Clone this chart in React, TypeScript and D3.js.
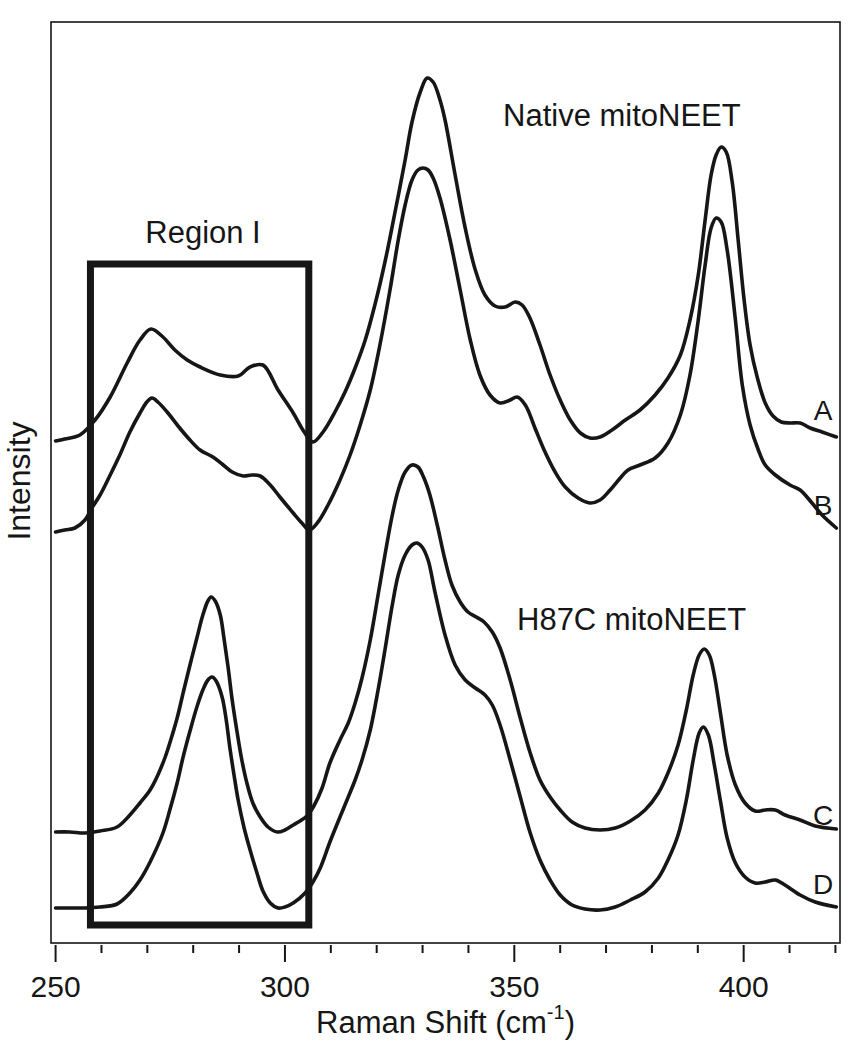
import React from "react";
import * as d3 from "d3";

// Raman shift (cm-1), intensity (arbitrary units, offset traces)
const nativeA: [number, number][] = [
  [250, 502], [252, 504], [255.3, 508], [258.6, 523], [261.9, 546], [265.6, 580], [268.4, 603], [270.8, 614],
  [273.4, 606], [276, 593], [278.7, 583], [281.5, 576], [285.9, 568], [289.8, 567], [292.4, 576], [295.2, 578],
  [298.5, 553], [301.8, 530], [304.2, 511], [306.1, 501], [308.3, 511], [310.9, 531], [313.1, 551], [315.3, 575],
  [317.5, 603], [319.6, 638], [321.8, 681], [324, 731], [326.2, 783], [327.7, 821], [329.5, 851], [331, 865],
  [332.3, 861], [333.8, 843], [334.9, 823], [337.1, 768], [339.3, 715], [341.5, 673], [343.6, 648], [345.8, 637],
  [348, 636], [350.2, 641], [351.7, 638], [353.4, 625], [355.6, 598], [357.8, 568], [360, 543], [362.2, 523],
  [364.4, 510], [366.5, 505], [368.7, 506], [371.3, 513], [374.2, 523], [377.4, 533], [380.7, 548], [383.5, 565],
  [386.2, 588], [388.3, 623], [390.1, 668], [391.6, 723], [392.9, 768], [394, 788], [395.1, 796], [396.2, 791],
  [397.5, 761], [398.8, 703], [400.1, 643], [401.4, 598], [403, 565], [404.7, 540], [406.4, 527], [408.2, 521],
  [410.1, 520], [412.3, 520], [414.5, 515], [417.1, 511], [420.2, 506],
];

const nativeB: [number, number][] = [
  [250, 411], [252, 413], [254.2, 415], [256.4, 423], [257.9, 435], [259.7, 448], [261.9, 468], [264, 488],
  [266.2, 511], [268.4, 530], [269.9, 541], [271, 545], [272.3, 541], [274.5, 530], [276.7, 517], [279.3, 503],
  [281.5, 493], [284.3, 486], [286.3, 479], [288.5, 471], [290.9, 467], [292.8, 468], [294.6, 467], [296.8, 458],
  [298.9, 446], [301.8, 430], [303.7, 420], [305.3, 413], [307.2, 421], [309.4, 438], [312, 463], [314.2, 488],
  [316.4, 518], [318.6, 553], [320.7, 598], [322.9, 653], [324.7, 703], [326.2, 738], [327.7, 763], [329, 773],
  [330.1, 775], [331.2, 773], [332.3, 765], [333.8, 745], [336, 703], [338.2, 653], [340.4, 603], [342.5, 568],
  [344.7, 548], [346.9, 540], [349.1, 543], [350.6, 546], [352.4, 538], [354.5, 515], [356.7, 491], [358.9, 471],
  [361.1, 456], [363.9, 445], [366.5, 440], [368.7, 443], [370.9, 453], [373.1, 465], [374.8, 473], [377.4, 478],
  [380.7, 485], [383.5, 500], [386.2, 528], [388.3, 568], [390.1, 623], [391.6, 678], [392.9, 715], [394, 725],
  [395.1, 721], [396.4, 693], [398.2, 623], [399.7, 558], [401.4, 518], [403.2, 493], [404.7, 478], [406.9, 468],
  [410.1, 458], [412.3, 453], [414.9, 440], [417.1, 428], [420.2, 415],
];

const h87cC: [number, number][] = [
  [250, 111], [253.1, 111], [256.4, 110], [259.7, 112], [263.4, 116], [266.2, 128], [268.4, 140], [270.6, 153],
  [272.3, 168], [273.9, 186], [274.9, 200], [276.5, 225], [277.8, 250], [279.3, 278], [280.8, 305], [282.1, 328],
  [283.2, 342], [283.9, 346], [284.8, 342], [285.9, 328], [286.7, 305], [287.6, 276], [288.5, 243], [289.6, 210],
  [290.6, 183], [291.7, 160], [293, 140], [294.6, 126], [296.3, 116], [298.3, 111], [300, 113], [301.8, 118],
  [303.3, 122], [304.8, 127], [306.3, 137], [308.1, 155], [309.8, 180], [312, 203], [313.8, 220], [315.3, 240],
  [316.8, 265], [318.6, 303], [320.3, 348], [321.8, 388], [323.4, 428], [324.7, 453], [326.2, 471], [327.7, 478],
  [329, 476], [330.3, 465], [331.6, 448], [333.2, 418], [334.9, 383], [336.4, 358], [338.2, 341], [339.9, 331],
  [341.7, 326], [343.4, 321], [345.2, 311], [346.9, 295], [349.1, 263], [351.3, 225], [353.4, 191], [355.6, 163],
  [357.8, 146], [360, 133], [362.6, 121], [365.4, 115], [368.7, 113], [372, 115], [375.3, 122], [378.5, 133],
  [381.4, 150], [383.5, 170], [385.7, 198], [387.5, 233], [389, 268], [390.3, 288], [391.4, 294], [392.5, 288],
  [393.6, 268], [394.9, 231], [396.4, 188], [398.2, 158], [400.3, 140], [402.5, 132], [404.7, 133], [406.9, 133],
  [409, 128], [412.3, 123], [415.6, 117], [420.2, 114],
];

const h87cD: [number, number][] = [
  [250, 35], [253.1, 35], [256.4, 35], [259.7, 36], [263.4, 39], [266.2, 50], [268.4, 63], [270.6, 81],
  [273.4, 110], [274.9, 133], [276.5, 160], [277.8, 186], [279.3, 212], [280.8, 236], [282.1, 253], [283.2, 263],
  [284.1, 266], [285, 262], [286.3, 246], [287.2, 223], [288, 195], [288.9, 168], [289.8, 143], [291.1, 115],
  [292.4, 93], [293.9, 70], [295.2, 52], [296.8, 40], [298.5, 35], [300, 36], [301.8, 40], [304.4, 50],
  [306.1, 61], [307.7, 75], [309.8, 101], [312, 126], [313.8, 146], [315.3, 163], [316.8, 183], [318.6, 213],
  [320.3, 253], [321.8, 293], [323.4, 338], [324.7, 368], [326.2, 388], [327.7, 398], [328.8, 400], [329.9, 396],
  [331.2, 383], [332.7, 351], [334.9, 308], [337.1, 278], [339.3, 263], [341.5, 255], [343.6, 248], [345.2, 238],
  [346.9, 218], [349.1, 183], [351.3, 146], [353.4, 111], [355.6, 83], [357.8, 63], [360, 48], [362.6, 38],
  [365.4, 34], [368.7, 33], [372, 36], [375.3, 43], [378.5, 51], [381.4, 65], [383.5, 83], [385.7, 108],
  [387.5, 143], [389, 183], [390.3, 210], [391.2, 216], [392.3, 208], [393.6, 178], [394.9, 143], [396.4, 105],
  [398.2, 80], [400.3, 66], [402.5, 60], [404.7, 61], [406.9, 63], [409, 58], [412.3, 48], [415.6, 41],
  [420.2, 36],
];

const traceLabels = ["A", "B", "C", "D"];
const majorTicks = [250, 300, 350, 400];
const minorTicks = [260, 270, 280, 290, 310, 320, 330, 340, 360, 370, 380, 390, 410, 420];
const regionIShift = [257.6, 305.2];
const regionIIntensity = [18, 679];

const W = 851;
const H = 1050;
const left = 51, right = 840, top = 22, bottom = 943;
const FONT = "'Liberation Sans', Arial, Helvetica, sans-serif";
const INK = "#161616";

export default function App() {
  const x = d3.scaleLinear().domain([249, 421]).range([left, right]);
  const y = d3.scaleLinear().domain([0, 921]).range([bottom, top]);
  const line = d3
    .line<[number, number]>()
    .x((d) => x(d[0]))
    .y((d) => y(d[1]))
    .curve(d3.curveCatmullRom.alpha(0.5));

  const series = [nativeA, nativeB, h87cC, h87cD];
  const labelY = [410, 505, 815, 884];

  return (
    <svg
      width={W}
      height={H}
      style={{ position: "absolute", left: 0, top: 0, background: "#fff" }}
      fontFamily={FONT}
    >
      <rect x={0} y={0} width={W} height={H} fill="#fff" />
      {/* frame */}
      <rect x={left} y={top} width={right - left} height={bottom - top} fill="none" stroke={INK} strokeWidth={1.6} />

      {/* x ticks */}
      <g stroke={INK} strokeWidth={2}>
        {majorTicks.map((t) => (
          <line key={"M" + t} x1={x(t)} x2={x(t)} y1={945} y2={962} />
        ))}
        {minorTicks.map((t) => (
          <line key={"m" + t} x1={x(t)} x2={x(t)} y1={945} y2={953} />
        ))}
      </g>
      <g fontSize={30} fill={INK} textAnchor="middle">
        {majorTicks.map((t) => (
          <text key={"L" + t} x={x(t)} y={997}>
            {t}
          </text>
        ))}
      </g>

      {/* axis titles */}
      <text x={(left + right) / 2} y={1033} fontSize={31} textAnchor="middle" fill={INK}>
        Raman Shift (cm
        <tspan fontSize={20} dy={-14}>-1</tspan>
        <tspan dy={14}>)</tspan>
      </text>
      <text
        transform={`translate(30,481) rotate(-90)`}
        fontSize={32}
        textAnchor="middle"
        fill={INK}
      >
        Intensity
      </text>

      {/* Region I box */}
      <rect
        x={x(regionIShift[0])}
        y={y(regionIIntensity[1])}
        width={x(regionIShift[1]) - x(regionIShift[0])}
        height={y(regionIIntensity[0]) - y(regionIIntensity[1])}
        fill="none"
        stroke={INK}
        strokeWidth={7}
      />
      <text x={203} y={243} fontSize={31} textAnchor="middle" fill={INK}>
        Region I
      </text>

      {/* spectra */}
      {series.map((s, i) => (
        <path
          key={i}
          d={line(s) || ""}
          fill="none"
          stroke={INK}
          strokeWidth={3.6}
          strokeLinejoin="round"
          strokeLinecap="round"
        />
      ))}

      {/* trace labels */}
      <g fontSize={28} fill={INK} textAnchor="middle">
        {traceLabels.map((l, i) => (
          <text key={l} x={823} y={labelY[i] + 10}>
            {l}
          </text>
        ))}
      </g>

      <text x={503} y={126} fontSize={31} fill={INK}>
        Native mitoNEET
      </text>
      <text x={517} y={630} fontSize={31} fill={INK}>
        H87C mitoNEET
      </text>
    </svg>
  );
}
